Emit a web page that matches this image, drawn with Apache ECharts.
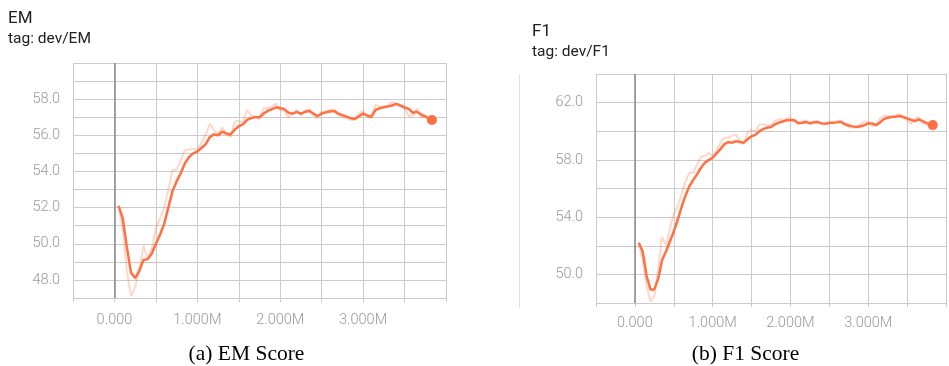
<!DOCTYPE html>
<html>
<head>
<meta charset="utf-8">
<script src="https://cdn.jsdelivr.net/npm/echarts@6/dist/echarts.min.js"></script>
<style>
html,body{margin:0;padding:0;background:#fff;}
#c{width:949px;height:366px;}
</style>
</head>
<body>
<div id="c"></div>
<script>
// training steps (millions)
const steps = [0.05,0.10,0.15,0.20,0.25,0.30,0.35,0.40,0.45,0.50,0.55,0.60,0.65,0.70,0.75,0.80,0.85,0.90,0.95,1.00,
  1.05,1.10,1.15,1.20,1.25,1.30,1.35,1.40,1.45,1.50,1.55,1.60,1.65,1.70,1.75,1.80,1.85,1.90,1.95,2.00,
  2.05,2.10,2.15,2.20,2.25,2.30,2.35,2.40,2.45,2.50,2.55,2.60,2.65,2.70,2.75,2.80,2.85,2.90,2.95,3.00,
  3.05,3.10,3.15,3.20,3.25,3.30,3.35,3.40,3.45,3.50,3.55,3.60,3.65,3.70,3.75,3.80,3.83];

const emRaw = [52.1,50.8,48.5,47.1,47.6,48.6,49.9,49.2,49.7,50.9,51.4,52.0,53.0,54.1,54.1,54.6,55.2,55.2,55.25,55.2,
  55.6,56.0,56.65,56.3,56.0,56.45,56.1,55.9,56.75,56.8,56.7,57.4,57.1,57.05,56.9,57.5,57.5,57.6,57.75,57.4,
  57.35,57.0,57.15,57.4,57.1,57.35,57.45,57.1,56.95,57.3,57.35,57.4,57.4,57.1,57.05,56.95,56.85,56.85,57.2,57.35,
  57.0,56.95,57.7,57.6,57.6,57.65,57.85,57.75,57.6,57.5,57.05,57.1,57.5,57.0,57.0,56.8,56.85];

const emSmooth = [52.1,51.4,49.8,48.4,48.1,48.5,49.1,49.15,49.45,50.0,50.5,51.1,52.0,52.9,53.45,53.9,54.45,54.8,55.0,55.1,
  55.3,55.5,55.9,56.05,56.0,56.2,56.1,56.05,56.3,56.5,56.6,56.85,56.95,57.0,57.0,57.2,57.35,57.45,57.55,57.5,
  57.45,57.25,57.2,57.3,57.2,57.3,57.35,57.2,57.07,57.2,57.27,57.32,57.35,57.2,57.12,57.03,56.95,56.9,57.05,57.2,
  57.1,57.03,57.4,57.5,57.55,57.6,57.65,57.74,57.65,57.55,57.46,57.25,57.3,57.15,57.05,56.9,56.85];

const f1Raw = [52.2,51.0,49.2,48.1,48.5,50.4,52.6,52.05,53.2,54.2,54.8,55.6,56.5,57.1,57.1,57.7,58.2,58.3,58.5,58.2,
  58.7,59.2,59.55,59.5,59.7,59.75,59.3,59.1,59.9,60.1,60.0,60.45,60.5,60.4,60.45,60.7,60.85,60.8,60.9,60.95,
  60.8,60.45,60.7,60.75,60.5,60.7,60.72,60.5,60.5,60.65,60.65,60.7,60.7,60.4,60.3,60.25,60.3,60.5,60.7,60.65,
  60.36,60.4,60.9,61.06,61.05,61.05,61.1,61.23,60.95,60.8,60.5,60.9,61.0,60.55,60.45,60.4,60.43];

const f1Smooth = [52.2,51.6,49.9,48.95,48.95,49.7,51.0,51.6,52.3,53.0,53.8,54.7,55.5,56.15,56.6,57.0,57.45,57.8,58.0,58.15,
  58.45,58.75,59.1,59.25,59.2,59.3,59.25,59.2,59.45,59.65,59.75,60.0,60.15,60.25,60.3,60.48,60.6,60.68,60.76,60.76,
  60.76,60.58,60.6,60.64,60.56,60.62,60.64,60.55,60.53,60.58,60.6,60.62,60.66,60.5,60.4,60.34,60.3,60.35,60.42,60.55,
  60.55,60.43,60.6,60.85,60.95,61.0,61.02,61.06,61.0,60.9,60.8,60.71,60.83,60.7,60.58,60.48,60.43];

const xTickLabels = {0:'0.000',1:'1.000M',2:'2.000M',3:'3.000M'};
const emLabels = [48,50,52,54,56,58];
const f1Labels = [50,54,58,62];
const titles = [{main:'EM', tag:'tag: dev/EM'}, {main:'F1', tag:'tag: dev/F1'}];
const captions = ['(a) EM Score', '(b) F1 Score'];

const pair = (xs, ys) => xs.map((x, i) => [x, ys[i]]);
const ORANGE = '#ff7043';
const RAW = 'rgba(255,112,67,0.28)';
const GRIDC = '#cacaca';
const LABC = '#999999';
const FONT = 'Roboto';

function xAxis(gi){
  return {
    type:'value', gridIndex:gi, min:-0.5, max:4, interval:0.5,
    axisLine:{show:false},
    axisTick:{show:true, length:4, lineStyle:{color:GRIDC}},
    splitLine:{show:true, lineStyle:{color:GRIDC, width:1}},
    axisLabel:{color:LABC, fontFamily:FONT, fontWeight:300, fontSize:14.5, margin:gi===0?15:13,
      formatter:v => (xTickLabels[v] !== undefined ? xTickLabels[v] : '')}
  };
}
function yAxis(gi, min, max, interval, labels){
  return {
    type:'value', gridIndex:gi, min:min, max:max, interval:interval,
    axisLine:{show:false}, axisTick:{show:false},
    splitLine:{show:true, lineStyle:{color:GRIDC, width:1}},
    axisLabel:{color:LABC, fontFamily:FONT, fontWeight:300, fontSize:14.5, margin:13,
      formatter:v => (labels.indexOf(v) >= 0 ? v.toFixed(1) : '')}
  };
}
function seriesFor(gi, raw, smooth){
  const last = steps.length - 1;
  return [
    {type:'line', xAxisIndex:gi, yAxisIndex:gi, data:pair(steps, raw), showSymbol:false, symbol:'none',
      lineStyle:{color:RAW, width:2}, z:2,
      markLine:{silent:true, symbol:'none', label:{show:false},
        lineStyle:{color:'#888888', width:1.5, type:'solid'}, data:[{xAxis:0}]}},
    {type:'line', xAxisIndex:gi, yAxisIndex:gi, data:pair(steps, smooth), showSymbol:false, symbol:'none',
      lineStyle:{color:ORANGE, width:2.5}, z:3},
    {type:'scatter', xAxisIndex:gi, yAxisIndex:gi, data:[[steps[last], smooth[last]]], symbolSize:10,
      itemStyle:{color:ORANGE, opacity:1}, z:4}
  ];
}

const chart = echarts.init(document.getElementById('c'), null, {renderer:'canvas'});
chart.setOption({
  animation:false,
  backgroundColor:'#fff',
  grid:[
    {left:73, right:503, top:63, bottom:68},
    {left:596, right:-8, top:74, bottom:63}
  ],
  xAxis:[xAxis(0), xAxis(1)],
  yAxis:[yAxis(0, 47, 60, 1, emLabels), yAxis(1, 48, 64, 2, f1Labels)],
  series:[].concat(seriesFor(0, emRaw, emSmooth), seriesFor(1, f1Raw, f1Smooth)),
  graphic:[
    {type:'text', left:8, top:10, style:{text:titles[0].main, font:'17px Roboto', fill:'#212121'}},
    {type:'text', left:8, top:31, style:{text:titles[0].tag, font:'15.5px Roboto', fill:'#212121'}},
    {type:'text', left:532, top:23, style:{text:titles[1].main, font:'17px Roboto', fill:'#212121'}},
    {type:'text', left:532, top:44, style:{text:titles[1].tag, font:'15.5px Roboto', fill:'#212121'}},
    {type:'line', shape:{x1:519.5, y1:74, x2:519.5, y2:308}, style:{stroke:'#e0e0e0', lineWidth:1}},
    {type:'text', x:246.5, y:354, style:{text:captions[0], font:'21.5px "Liberation Serif"', fill:'#000', textAlign:'center', textVerticalAlign:'middle'}},
    {type:'text', x:745.5, y:354, style:{text:captions[1], font:'21.5px "Liberation Serif"', fill:'#000', textAlign:'center', textVerticalAlign:'middle'}}
  ]
});
</script>
</body>
</html>
